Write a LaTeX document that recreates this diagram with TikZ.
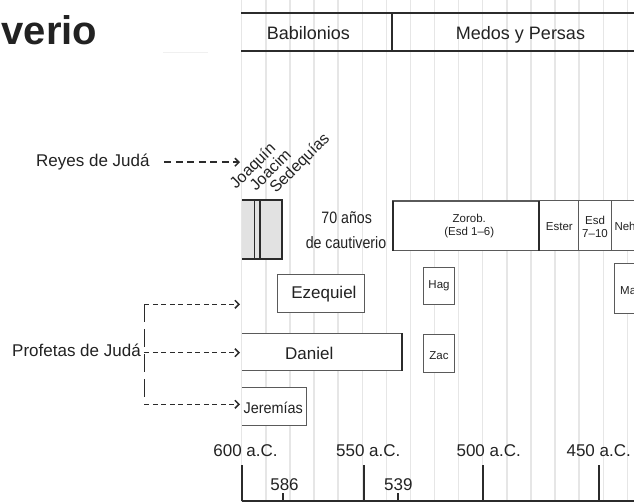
\documentclass[tikz,border=0pt]{standalone}
\usepackage{fontspec}
\setmainfont{Liberation Sans}
\usepackage{xcolor}
\usepackage{tikz}
\usetikzlibrary{arrows.meta}
\definecolor{inkc}{HTML}{222222}
\definecolor{linec}{HTML}{2B2B2B}
\definecolor{edgec}{HTML}{5A5A5A}
\definecolor{gridc}{HTML}{E6E6E6}
\definecolor{kingbg}{HTML}{E2E2E2}
\tikzset{
  ar/.style={-{Straight Barb[length=4pt,width=8pt]},line width=1.5pt,linec,dash pattern=on 5pt off 3.5pt},
  box/.style={draw=edgec,line width=1pt,fill=white},
  lbl/.style={text=inkc,inner sep=0pt,anchor=base,font=\fontsize{17}{20}\selectfont},
  sm/.style={text=inkc,inner sep=0pt,align=center,font=\fontsize{11.5}{13}\selectfont},
  tk/.style={line width=2pt,linec}
}
\begin{document}
\begin{tikzpicture}[x=1pt,y=-1pt]
\clip (0,0) rectangle (634,502);
\foreach \k in {0,...,16}
  \draw[gridc,line width=1.4pt] ({241.7+24.1*\k},0) -- ({241.7+24.1*\k},502);
\node[anchor=base east,inner sep=0pt,text=inkc,font=\fontsize{40}{42}\selectfont\bfseries] (title) at (97.5,44.5) {verio};
\draw[gray!12,line width=1pt] (163,53) -- (208,53);
\draw[linec,line width=1.8pt] (241,13.3) -- (634,13.3) (241,50.7) -- (634,50.7) (391.7,13.3) -- (391.7,50.7);
\node[lbl,font=\fontsize{18}{20}\selectfont] (babil) at (308.4,39.3) {Babilonios};
\node[lbl,font=\fontsize{18}{20}\selectfont] (medos) at (520.5,39.3) {Medos y Persas};
\fill[kingbg] (242,200) rectangle (281.7,259.3);
\draw[linec,line width=2pt] (242,200) -- (281.7,200) -- (281.7,259.3) -- (242,259.3);
\draw[linec,line width=1.2pt] (254.3,200) -- (254.3,259.3);
\draw[linec,line width=2pt] (259.7,200) -- (259.7,259.3);
\node[lbl,anchor=base west,rotate=45,font=\fontsize{16}{20}\selectfont] (joaquin) at (236,190) {Joaquín};
\node[lbl,anchor=base west,rotate=45,font=\fontsize{16}{20}\selectfont] (joacim) at (256,192) {Joacim};
\node[lbl,anchor=base west,rotate=45,font=\fontsize{16}{20}\selectfont] (sedeq) at (276,194) {Sedequías};
\node[lbl,font=\fontsize{16.5}{20}\selectfont] (anos) at (346.7,223.3) {\scalebox{0.86}[1]{70 años}};
\node[lbl,font=\fontsize{16.5}{20}\selectfont] (cautiv) at (346,248.3) {\scalebox{0.86}[1]{de cautiverio}};
\draw[box,line width=1.2pt] (392.7,201) rectangle (539.3,250.7);
\draw[box] (539.3,201) rectangle (578.7,250.7);
\draw[box] (578.7,201) rectangle (611,250.7);
\draw[box] (611,201) rectangle (640,250.7);
\draw[linec,line width=1.6pt] (392.7,201) -- (392.7,250.7);
\draw[linec,line width=2.2pt] (539.3,201) -- (539.3,250.7);
\node[sm] (zorob) at (469.3,226.5) {Zorob.\\(Esd 1–6)};
\node[sm] (ester) at (559.3,226.7) {Ester};
\node[sm] (esd) at (595,226.5) {Esd\\7–10};
\node[sm,anchor=west] (neh) at (614.3,226.7) {Neh};
\draw[box] (423.7,267.3) rectangle (454.3,305);
\draw[box] (423.7,334) rectangle (454.3,372.3);
\draw[box] (614.3,263.3) rectangle (640,313.3);
\node[sm] (hag) at (439,286) {Hag};
\node[sm] (zac) at (439,356) {Zac};
\node[sm,anchor=west] (mal) at (620,290) {Mal};
\draw[box] (277.7,274.3) rectangle (364.3,312.3);
\node[lbl] (ezeq) at (323.9,298.3) {Ezequiel};
\fill[white] (242,333.3) rectangle (402.3,370.7);
\draw[edgec,line width=1pt] (242,333.3) -- (402.3,333.3) -- (402.3,370.7) -- (242,370.7);
\draw[linec,line width=2.2pt] (402.3,333.3) -- (402.3,370.7);
\node[lbl] (daniel) at (309.2,359.3) {Daniel};
\fill[white] (242,387.7) rectangle (306.7,425.7);
\draw[edgec,line width=1pt] (242,387.7) -- (306.7,387.7) -- (306.7,425.7) -- (242,425.7);
\node[lbl,font=\fontsize{15.5}{18}\selectfont] (jerem) at (273.2,413.3) {\scalebox{0.93}[1]{Jeremías}};
\node[lbl,anchor=base west] (reyes) at (36,166.7) {Reyes de Judá};
\coordinate (reyesend) at (240,161);
\draw[ar,dash pattern=on 7pt off 4.5pt] ([xshift=14.5pt]reyes.east) -- (reyes.east -| reyesend);
\node[lbl,anchor=base west] (profetas) at (12,356.7) {Profetas de Judá};
\coordinate (brtop) at (144.3,304.3);
\coordinate (brbot) at (144.3,404.3);
\coordinate (ezeqend) at (240,304.3);
\coordinate (danend) at (240,352.7);
\coordinate (jerend) at (240,404.3);
\draw[linec,line width=1.5pt,dash pattern=on 18pt off 7pt] (brtop) -- (brbot);
\draw[ar] (brtop) -- (ezeqend);
\draw[ar] (brtop |- danend) -- (danend);
\draw[ar] (brbot) -- (jerend);
\draw[tk] (242,500.8) -- (634,500.8);
\foreach \x in {242,363.7,483.3,599}
  \draw[tk] (\x,465) -- (\x,501);
\foreach \x in {282.7,398.3}
  \draw[tk] (\x,493) -- (\x,501);
\node[lbl] (y600) at (245.5,456) {600 a.C.};
\node[lbl] (y550) at (368.3,456) {550 a.C.};
\node[lbl] (y500) at (488.7,456) {500 a.C.};
\node[lbl] (y450) at (598.7,456) {450 a.C.};
\node[lbl] (y586) at (284.5,490) {586};
\node[lbl] (y539) at (398.3,490) {539};
\end{tikzpicture}
\end{document}
